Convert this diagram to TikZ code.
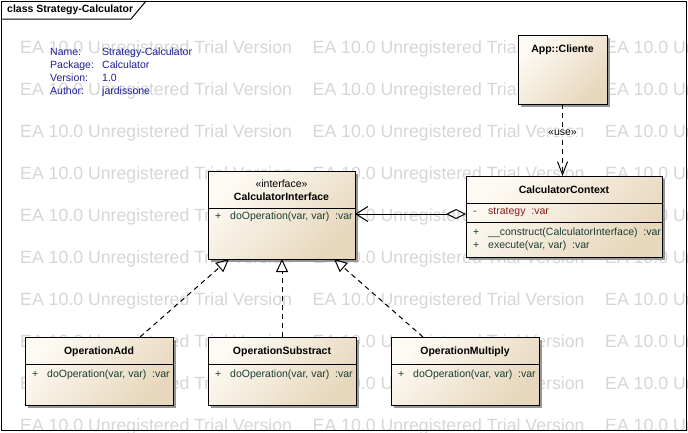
\documentclass[tikz,border=0pt]{standalone}
\usepackage{fontspec}
\setmainfont{Liberation Sans}
\usetikzlibrary{arrows.meta,shadows,calc}

\definecolor{boxlight}{RGB}{253,250,243}
\definecolor{boxdark}{RGB}{231,215,188}
\definecolor{attrcol}{RGB}{140,28,28}
\definecolor{opcol}{RGB}{28,62,52}
\definecolor{metacol}{RGB}{30,30,150}
\definecolor{wmcol}{RGB}{214,214,214}
\definecolor{shadowcol}{RGB}{150,150,150}

\begin{document}
\begin{tikzpicture}[x=1pt,y=-1pt,
  font=\fontsize{10.5}{12}\selectfont,
  classbox/.style={draw, line width=1pt, anchor=north west, inner sep=0pt, outer sep=0pt,
    top color=boxlight, bottom color=boxdark, shading angle=45,
    drop shadow={shadow xshift=3pt, shadow yshift=-3pt, fill=shadowcol, opacity=1}},
  cname/.style={font=\fontsize{10.5}{12}\selectfont\bfseries, inner sep=0pt},
  stereo/.style={inner sep=0pt},
  mem/.style={anchor=west, inner sep=0pt, text height=8pt, text depth=2.5pt},
  op/.style={mem, text=opcol},
  attr/.style={mem, text=attrcol},
  meta/.style={anchor=west, inner sep=0pt, text=metacol, text height=8pt, text depth=2.5pt},
  divider/.style={line width=1pt},
  wm/.style={anchor=west, inner sep=0pt, text=wmcol, font=\fontsize{17.7}{20}\selectfont},
  realize/.style={line width=1pt, dash pattern=on 5pt off 4pt, -{Triangle[open, length=13pt, width=12pt]}},
  depend/.style={line width=1pt, dash pattern=on 5pt off 4pt, -{Straight Barb[length=13pt, width=10pt]}},
  aggregate/.style={line width=1pt, {Diamond[open, length=20pt, width=10pt]}-{Straight Barb[length=12pt, width=15pt]}}
]
\useasboundingbox (0,0) rectangle (688,432);

% trial-version watermark behind everything
\begin{scope}
  \clip (0,0) rectangle (688,432);
  \foreach \r in {0,...,9}
    \foreach \c in {0,1,2}
      \node[wm] at (20+292.5*\c, 49+42*\r) {EA 10.0 Unregistered Trial Version};
\end{scope}

% diagram frame with its name tab
\draw[line width=1pt] (1,1) rectangle (686,430);
\draw[line width=1pt] (1,19) -- (131,19) -- (146,1);
\node[cname, anchor=west] (frametitle) at (7,10) {class Strategy-Calculator};

% package notes
\node[meta] (nameK) at (50,53) {Name:};
\node[meta] (nameV) at (102,53) {Strategy-Calculator};
\node[meta] (pkgK) at (50,66) {Package:};
\node[meta] (pkgV) at (102,66) {Calculator};
\node[meta] (verK) at (50,79) {Version:};
\node[meta] (verV) at (102,79) {1.0};
\node[meta] (autK) at (50,92) {Author:};
\node[meta] (autV) at (102,92) {jardissone};

% CalculatorInterface
\node[classbox, minimum width=147pt, minimum height=88pt] (iface) at (208,171) {};
\node[stereo] (ifaceSt) at (281.5,184) {«interface»};
\node[cname] (ifaceN) at (281.5,197) {CalculatorInterface};
\draw[divider] ($(iface.north west)+(0,37)$) -- ($(iface.north east)+(0,37)$);
\node[op] (ifaceP) at (215,217) {+};
\node[op] (ifaceO) at (230,217) {doOperation(var, var)\ \ :var};

% CalculatorContext
\node[classbox, minimum width=196pt, minimum height=81pt] (ctx) at (466,176) {};
\node[cname] (ctxN) at (564,190) {CalculatorContext};
\draw[divider] ($(ctx.north west)+(0,27)$) -- ($(ctx.north east)+(0,27)$);
\draw[divider] ($(ctx.north west)+(0,46)$) -- ($(ctx.north east)+(0,46)$);
\node[attr] (ctxM) at (473,212) {-};
\node[attr] (ctxA) at (488,212) {strategy\ \ :var};
\node[op] (ctxP1) at (473,233) {+};
\node[op] (ctxO1) at (488,233) {\_\_construct(CalculatorInterface)\ \ :var};
\node[op] (ctxP2) at (473,246) {+};
\node[op] (ctxO2) at (488,246) {execute(var, var)\ \ :var};

% App::Cliente
\node[classbox, minimum width=89pt, minimum height=69pt] (client) at (518,35) {};
\node[cname] (clientN) at (562.5,50) {App::Cliente};

% concrete strategies
\foreach \nm/\x/\ttl in {add/25/OperationAdd, sub/208/OperationSubstract, mul/391/OperationMultiply}{
  \node[classbox, minimum width=148pt, minimum height=68pt] (\nm) at (\x,337) {};
  \node[cname] (\nm N) at (\x+74,352) {\ttl};
  \draw[divider] ($(\nm.north west)+(0,27)$) -- ($(\nm.north east)+(0,27)$);
  \node[op] (\nm P) at (\x+7,375) {+};
  \node[op] (\nm O) at (\x+22,375) {doOperation(var, var)\ \ :var};
}

% relations
\draw[aggregate] ($(ctx.north west)+(0,38)$) -- ($(iface.north east)+(0,43)$);
\draw[depend] (client.south) -- (client.south |- ctx.north)
  node[pos=0.4, fill=white, inner sep=0.5pt] (uselbl) {«use»};
\draw[realize] ($(add.north east)+(-33,0)$) -- ($(iface.south west)+(21,0)$);
\draw[realize] (sub.north) -- (sub.north |- iface.south);
\draw[realize] ($(mul.north west)+(32,0)$) -- ($(iface.south east)+(-21,0)$);
\end{tikzpicture}
\end{document}
